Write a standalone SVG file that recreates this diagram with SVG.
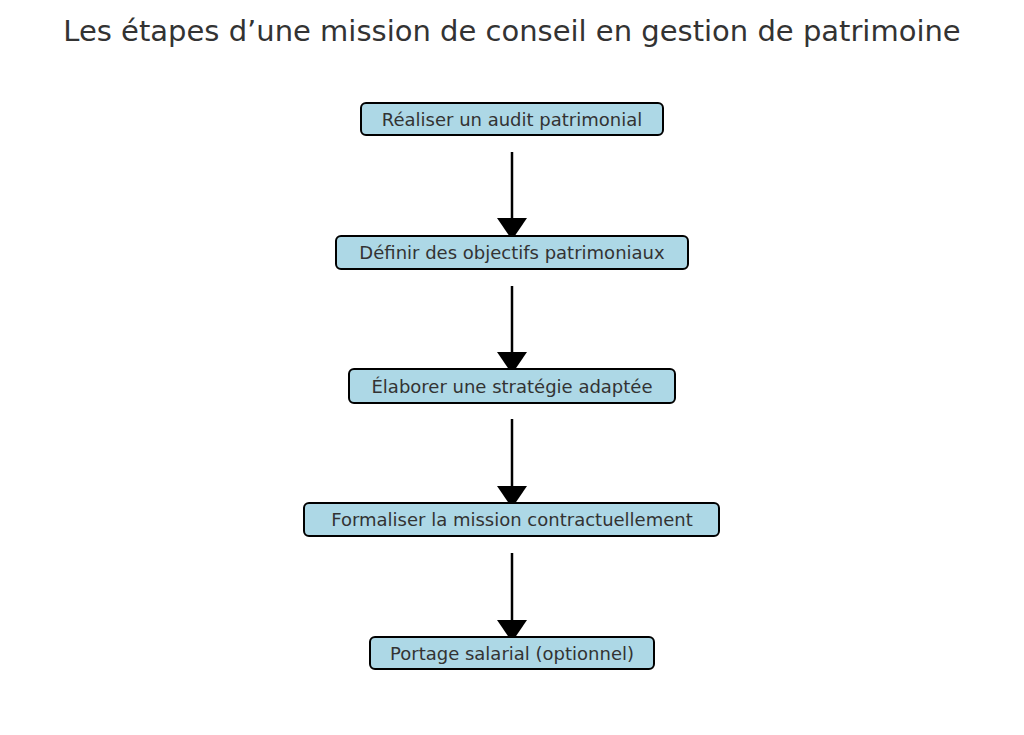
<svg xmlns="http://www.w3.org/2000/svg" width="1024" height="735" viewBox="0 0 1024 735">
<style>
.box{fill:#add8e6;stroke:#000;stroke-width:2}
.lbl{font-family:"DejaVu Sans",sans-serif;font-size:18px;fill:#333;text-anchor:middle}
.title{font-family:"DejaVu Sans",sans-serif;font-size:29px;fill:#333;text-anchor:middle}
.edge{stroke:#000;stroke-width:2.5;fill:none}
</style>
<rect width="1024" height="735" fill="#fff"/>
<text class="title" x="512" y="41">Les étapes d’une mission de conseil en gestion de patrimoine</text>
<g id="connectors">
<line class="edge" x1="512" y1="152" x2="512" y2="222"/><polygon points="497,218 527,218 512,240"/>
<line class="edge" x1="512" y1="286" x2="512" y2="356"/><polygon points="497,352 527,352 512,374"/>
<line class="edge" x1="512" y1="419" x2="512" y2="490"/><polygon points="497,486 527,486 512,508"/>
<line class="edge" x1="512" y1="553" x2="512" y2="624"/><polygon points="497,620 527,620 512,642"/>
</g>
<g id="n1"><rect class="box" x="361" y="103" width="302" height="32" rx="5"/><text class="lbl" x="512" y="126">Réaliser un audit patrimonial</text></g>
<g id="n2"><rect class="box" x="336" y="236" width="352" height="33" rx="5"/><text class="lbl" x="512" y="259">Définir des objectifs patrimoniaux</text></g>
<g id="n3"><rect class="box" x="349" y="369" width="326" height="34" rx="5"/><text class="lbl" x="512" y="393">Élaborer une stratégie adaptée</text></g>
<g id="n4"><rect class="box" x="304" y="503" width="415" height="33" rx="5"/><text class="lbl" x="512" y="526">Formaliser la mission contractuellement</text></g>
<g id="n5"><rect class="box" x="370" y="637" width="284" height="32" rx="5"/><text class="lbl" x="512" y="660">Portage salarial (optionnel)</text></g>
</svg>
